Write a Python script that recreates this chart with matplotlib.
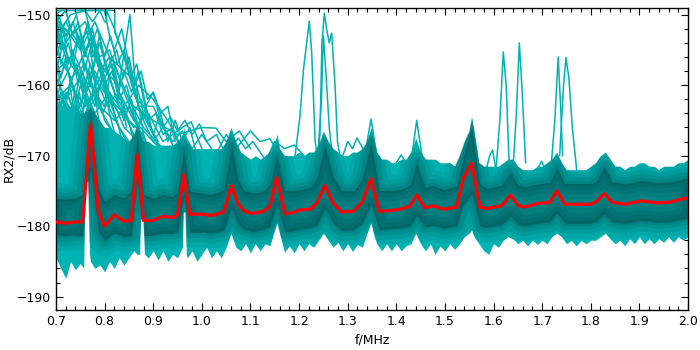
import matplotlib
matplotlib.use('Agg')
import matplotlib.pyplot as plt
from matplotlib.ticker import MultipleLocator, FormatStrFormatter

# mean spectrum (red)
mean_f = [0.700, 0.720, 0.740, 0.755, 0.771, 0.787, 0.800, 0.820, 0.840, 0.855,
          0.867, 0.880, 0.900, 0.920, 0.940, 0.950, 0.963, 0.975, 1.000, 1.020,
          1.045, 1.061, 1.075, 1.088, 1.106, 1.127, 1.140, 1.154, 1.171, 1.188,
          1.202, 1.223, 1.237, 1.253, 1.270, 1.288, 1.312, 1.329, 1.348, 1.365,
          1.387, 1.408, 1.428, 1.442, 1.459, 1.476, 1.497, 1.524, 1.538, 1.555,
          1.572, 1.586, 1.617, 1.635, 1.651, 1.665, 1.689, 1.716, 1.730, 1.747,
          1.800, 1.812, 1.828, 1.844, 1.871, 1.905, 1.936, 1.963, 1.990, 2.000]
mean_db = [-179.4, -179.6, -179.4, -179.4, -165.5, -177.9, -180.0, -178.4, -179.3, -179.2,
           -169.9, -179.2, -179.2, -178.6, -178.8, -178.4, -172.7, -178.3, -178.3, -178.5,
           -178.0, -174.3, -176.9, -177.9, -178.2, -177.9, -177.2, -173.1, -178.2, -178.1,
           -177.7, -177.6, -176.7, -174.2, -176.7, -178.0, -177.9, -176.7, -173.3, -177.9,
           -177.8, -177.6, -177.2, -175.6, -177.4, -177.1, -177.6, -177.3, -173.2, -171.1,
           -177.3, -177.5, -177.1, -175.6, -177.1, -177.3, -176.8, -176.6, -175.0, -176.9,
           -176.9, -176.5, -175.4, -176.6, -176.9, -176.4, -176.7, -176.6, -176.1, -176.0]
# dark core of the trace bundle (same frequencies as the mean)
core_hi = [-176.0, -176.2, -176.0, -175.5, -163.8, -174.5, -176.5, -175.5, -176.0, -175.0,
           -166.9, -175.5, -176.0, -175.5, -175.8, -175.0, -169.0, -175.0, -175.3, -175.5,
           -174.8, -168.3, -173.5, -175.0, -175.3, -175.0, -174.0, -170.1, -175.0, -175.0,
           -174.8, -174.5, -173.0, -168.5, -173.0, -175.0, -175.0, -173.5, -168.0, -175.0,
           -175.0, -174.8, -174.2, -171.0, -174.5, -174.2, -174.8, -174.3, -170.0, -166.0,
           -174.0, -174.6, -174.2, -172.3, -174.2, -174.4, -174.0, -173.8, -171.5, -174.0,
           -174.0, -173.6, -171.5, -173.7, -174.0, -173.5, -173.8, -173.7, -173.3, -173.2]
core_lo = [-181.2, -181.4, -181.2, -181.2, -172.0, -180.8, -182.0, -181.0, -181.5, -181.3,
           -174.0, -181.3, -181.3, -181.0, -181.0, -180.8, -176.0, -180.8, -180.8, -181.0,
           -180.6, -177.5, -179.8, -180.5, -180.8, -180.5, -180.0, -177.0, -180.8, -180.7,
           -180.4, -180.3, -179.8, -177.5, -179.6, -180.6, -180.5, -179.7, -177.0, -180.5,
           -180.4, -180.3, -180.0, -178.5, -180.1, -179.9, -180.3, -180.0, -177.0, -175.5,
           -180.0, -180.2, -179.8, -178.6, -179.8, -180.0, -179.6, -179.4, -178.2, -179.6,
           -179.6, -179.3, -178.3, -179.4, -179.6, -179.2, -179.5, -179.4, -179.0, -178.9]

# outer envelope of the dense bundle
band_f = [0.700, 0.710, 0.720, 0.730, 0.740, 0.750, 0.757, 0.760, 0.766, 0.769,
          0.771, 0.780, 0.790, 0.800, 0.810, 0.820, 0.830, 0.840, 0.850, 0.860,
          0.867, 0.872, 0.874, 0.880, 0.882, 0.890, 0.900, 0.910, 0.920, 0.930,
          0.940, 0.950, 0.960, 0.962, 0.963, 0.966, 0.968, 0.970, 0.980, 0.990,
          1.000, 1.010, 1.020, 1.030, 1.040, 1.050, 1.060, 1.070, 1.080, 1.090,
          1.100, 1.110, 1.120, 1.130, 1.140, 1.150, 1.155, 1.160, 1.170, 1.180,
          1.190, 1.200, 1.210, 1.220, 1.230, 1.240, 1.250, 1.260, 1.270, 1.280,
          1.290, 1.300, 1.310, 1.320, 1.330, 1.340, 1.348, 1.355, 1.360, 1.370,
          1.380, 1.390, 1.400, 1.410, 1.420, 1.430, 1.440, 1.450, 1.460, 1.470,
          1.480, 1.490, 1.500, 1.510, 1.520, 1.530, 1.540, 1.550, 1.555, 1.560,
          1.570, 1.580, 1.590, 1.600, 1.610, 1.620, 1.630, 1.640, 1.650, 1.660,
          1.670, 1.680, 1.690, 1.700, 1.710, 1.720, 1.730, 1.740, 1.750, 1.760,
          1.770, 1.780, 1.790, 1.800, 1.810, 1.820, 1.830, 1.840, 1.850, 1.860,
          1.870, 1.880, 1.890, 1.900, 1.910, 1.920, 1.930, 1.940, 1.950, 1.960,
          1.970, 1.980, 1.990, 2.000]
band_hi = [-162.0, -163.0, -162.0, -163.5, -162.5, -164.0, -164.0, -164.0, -163.5, -163.5,
           -163.0, -164.0, -165.0, -166.0, -166.0, -166.5, -167.0, -167.5, -168.0, -167.0,
           -165.5, -166.5, -167.0, -168.0, -168.0, -168.0, -168.5, -168.5, -168.5, -168.5,
           -168.5, -168.0, -167.0, -166.5, -166.0, -167.0, -167.5, -168.0, -169.0, -169.0,
           -169.0, -169.0, -169.0, -169.0, -169.0, -168.0, -166.0, -168.0, -169.5, -170.0,
           -170.5, -170.0, -170.5, -170.0, -169.5, -168.0, -167.0, -169.0, -170.0, -170.0,
           -170.0, -169.5, -170.0, -169.5, -169.5, -168.5, -166.5, -168.0, -169.0, -169.5,
           -170.0, -170.0, -169.5, -169.5, -169.0, -168.0, -166.0, -168.0, -169.5, -170.5,
           -170.5, -171.0, -171.0, -170.5, -170.5, -169.5, -167.5, -169.5, -170.5, -170.5,
           -170.5, -171.0, -171.0, -171.0, -171.5, -170.0, -168.0, -166.5, -164.5, -166.5,
           -171.0, -171.5, -171.5, -171.5, -171.5, -171.0, -170.5, -170.5, -171.5, -172.0,
           -172.0, -172.0, -171.5, -171.5, -171.0, -170.5, -169.5, -171.0, -172.0, -172.0,
           -172.0, -172.0, -172.0, -171.5, -171.0, -170.0, -169.5, -170.5, -171.5, -171.5,
           -172.0, -171.5, -171.5, -171.0, -171.0, -171.5, -171.5, -172.0, -171.5, -171.5,
           -171.5, -171.0, -171.0, -170.5]
band_lo = [-184.5, -186.0, -187.4, -185.0, -186.2, -185.3, -186.0, -174.0, -173.5, -184.0,
           -185.0, -186.0, -185.5, -186.5, -185.0, -186.0, -184.5, -185.5, -184.5, -183.5,
           -184.0, -184.0, -179.0, -179.0, -184.0, -184.5, -183.5, -184.8, -183.5, -185.0,
           -184.0, -184.5, -183.0, -178.0, -178.0, -178.0, -184.0, -184.5, -183.5, -185.0,
           -184.0, -183.0, -184.5, -183.5, -184.5, -183.0, -181.0, -183.0, -183.5, -182.5,
           -183.8, -182.5, -183.5, -182.5, -182.8, -180.5, -179.5, -181.0, -183.7, -182.8,
           -183.8, -182.5, -183.5, -182.5, -183.0, -182.0, -181.0, -182.0, -183.0, -182.3,
           -183.5, -182.5, -183.6, -182.6, -183.0, -181.0, -179.5, -181.5, -182.5, -183.5,
           -182.5, -183.5, -182.5, -183.5, -182.8, -182.5, -181.0, -182.5, -183.5, -182.5,
           -184.0, -182.8, -183.5, -182.5, -183.3, -182.5, -181.5, -181.0, -180.5, -181.5,
           -182.5, -183.5, -184.0, -182.5, -183.0, -182.0, -181.5, -181.8, -182.5, -182.0,
           -182.8, -182.0, -182.6, -182.0, -182.5, -181.5, -181.0, -181.5, -182.5, -182.0,
           -182.8, -182.0, -182.5, -182.0, -182.0, -181.5, -181.0, -181.8, -182.5, -182.0,
           -182.8, -181.8, -182.5, -181.5, -182.5, -181.8, -182.5, -181.8, -182.3, -181.5,
           -182.3, -181.5, -182.0, -181.5]

# single traces that stick out of the bundle: (frequencies, levels)
stray_traces = [
    ([0.70, 0.821, 0.821, 0.84, 0.86, 0.88, 0.90, 0.93],
     [-149.4, -149.4, -152.5, -156, -161, -165, -168, -170]),
    ([0.70, 0.72, 0.79, 0.80, 0.804, 0.804, 0.82, 0.85, 0.87, 0.90, 0.92],
     [-151, -149.4, -149.4, -151, -151, -149.4, -152, -158, -163, -167, -170]),
    ([0.70, 0.73, 0.76, 0.78, 0.80, 0.83, 0.852, 0.862, 0.88, 0.91],
     [-153, -150, -149.4, -155, -158, -160, -150.0, -159, -164, -168]),
    ([0.70, 0.71, 0.74, 0.77, 0.80, 0.83, 0.86],
     [-149.8, -155, -152, -157, -162, -166, -170]),
    ([0.70, 0.72, 0.75, 0.78, 0.81, 0.84, 0.864, 0.87, 0.90, 0.92, 0.94],
     [-156, -152, -155, -151, -156, -158, -159.5, -163, -163, -166, -168]),
    ([0.70, 0.73, 0.76, 0.79, 0.82, 0.85, 0.88, 0.90],
     [-158, -156, -161, -154, -161, -165, -167, -171]),
    ([0.70, 0.72, 0.75, 0.77, 0.80, 0.83, 0.86],
     [-160, -157, -163, -157, -165, -168, -172]),
    ([0.70, 0.73, 0.76, 0.79, 0.83, 0.87, 0.90, 0.93, 0.96],
     [-162, -160, -163, -160, -164, -160, -162, -165, -169]),
    ([0.70, 0.72, 0.75, 0.78, 0.82, 0.86],
     [-164, -161, -165, -162, -167, -169]),
    ([0.70, 0.72, 0.74, 0.77, 0.80, 0.83, 0.86, 0.89, 0.92, 0.96, 0.978, 1.00],
     [-152, -156, -158, -154, -160, -163, -166, -164, -168, -166, -165.2, -169]),
    ([0.70, 0.73, 0.76, 0.79, 0.82, 0.85, 0.88, 0.91],
     [-155, -159, -157, -163, -165, -163, -168, -170]),
    ([0.70, 0.73, 0.76, 0.79, 0.81, 0.84, 0.87, 0.89],
     [-150.5, -153, -151, -156, -155, -161, -166, -169]),
    ([0.86, 0.90, 0.95, 1.00, 1.029, 1.05, 1.077, 1.10],
     [-163, -165, -167, -166, -166.1, -168, -166.5, -169]),
    ([0.70, 0.71, 0.74, 0.765, 0.78, 0.81, 0.84, 0.86, 0.89],
     [-157, -160, -156, -160, -158, -162, -164, -167, -171]),
    ([0.70, 0.72, 0.75, 0.78, 0.81, 0.84, 0.87],
     [-159, -162, -159, -164, -161, -166, -168]),
    ([0.70, 0.74, 0.77, 0.80, 0.83, 0.86, 0.90, 0.94],
     [-161, -164, -160, -163, -161, -165, -168, -170]),
    ([0.70, 0.72, 0.745, 0.77, 0.79, 0.82, 0.85, 0.88, 0.92],
     [-154, -151, -154, -152, -158, -157, -162, -166, -169]),
    ([0.70, 0.705, 0.715, 0.725, 0.735, 0.745, 0.755, 0.765, 0.78, 0.79, 0.80],
     [-151, -154, -152, -157, -155, -160, -158, -163, -161, -166, -168]),
    ([0.70, 0.71, 0.72, 0.73, 0.74, 0.75, 0.76, 0.77, 0.78],
     [-165, -161, -163, -159, -162, -158, -161, -164, -167]),
    ([0.70, 0.71, 0.72, 0.735, 0.745, 0.76, 0.775, 0.79, 0.81, 0.83],
     [-150, -149.4, -149.4, -153, -151, -155, -153, -158, -156, -162]),
    ([0.70, 0.712, 0.725, 0.74, 0.752, 0.765, 0.78, 0.795, 0.81, 0.825, 0.84],
     [-167, -164, -166, -162, -165, -160, -163, -159, -162, -165, -169]),
    ([0.70, 0.71, 0.725, 0.74, 0.755, 0.77, 0.785, 0.80, 0.815, 0.83, 0.845, 0.86],
     [-153, -157, -154, -158, -156, -160, -155, -159, -157, -161, -164, -168]),
    ([0.70, 0.715, 0.73, 0.745, 0.76, 0.775, 0.79, 0.805, 0.82],
     [-158, -154, -157, -153, -156, -152, -157, -160, -164]),
    ([0.75, 0.76, 0.775, 0.79, 0.80, 0.81, 0.82, 0.835, 0.85, 0.86, 0.87, 0.88],
     [-149.4, -149.4, -151, -149.4, -149.4, -153, -155, -152, -157, -160, -163, -167]),
    ([0.70, 0.708, 0.718, 0.728, 0.738, 0.748, 0.758, 0.768, 0.778, 0.79],
     [-163, -160, -163, -160, -164, -161, -165, -162, -166, -169]),
    ([0.70, 0.71, 0.72, 0.73, 0.742, 0.755, 0.768, 0.78, 0.795, 0.81, 0.825],
     [-156, -159, -156, -160, -157, -161, -158, -162, -159, -164, -168]),
    ([0.78, 0.79, 0.80, 0.815, 0.83, 0.845, 0.86, 0.875, 0.89, 0.905, 0.92, 0.94, 0.96],
     [-160, -157, -160, -158, -162, -160, -164, -162, -165, -164, -167, -166, -170]),
    ([0.80, 0.81, 0.825, 0.84, 0.855, 0.87, 0.885, 0.90, 0.915, 0.93, 0.95],
     [-163, -159, -162, -158, -161, -158, -163, -161, -165, -167, -170]),
    ([0.70, 0.718, 0.732, 0.746, 0.76, 0.772, 0.785, 0.80],
     [-168, -166, -168, -165, -167, -164, -166, -169]),
    ([0.70, 0.705, 0.72, 0.735, 0.75, 0.762, 0.775, 0.79, 0.805, 0.82, 0.84],
     [-152, -150, -153, -151, -155, -152, -156, -154, -158, -161, -165]),
    ([0.84, 0.855, 0.87, 0.885, 0.90, 0.915, 0.93, 0.945, 0.96, 0.975, 0.99],
     [-165, -162, -166, -163, -167, -164, -168, -165, -168, -166, -170]),
    ([0.90, 0.92, 0.94, 0.96, 0.98, 1.00, 1.02, 1.04],
     [-168, -166, -168, -166.5, -169, -167, -169, -171]),
    ([0.70, 0.71, 0.723, 0.737, 0.75, 0.765, 0.78, 0.795, 0.81, 0.83, 0.85, 0.87],
     [-160, -163, -161, -164, -160, -163, -160, -164, -162, -166, -168, -170]),
    ([0.70, 0.707, 0.716, 0.726, 0.736, 0.747, 0.758, 0.77, 0.783, 0.797, 0.81],
     [-155, -151, -155, -152, -157, -153, -158, -155, -160, -158, -163]),
    ([0.72, 0.73, 0.742, 0.754, 0.766, 0.778, 0.79, 0.803, 0.816, 0.83, 0.845],
     [-149.4, -152, -150, -154, -151, -156, -153, -158, -156, -161, -166]),
    ([0.70, 0.713, 0.726, 0.739, 0.752, 0.765, 0.778, 0.79],
     [-166, -162, -165, -161, -164, -162, -165, -168]),
    ([0.77, 0.785, 0.80, 0.812, 0.826, 0.84, 0.853, 0.866, 0.88, 0.895],
     [-155, -152, -156, -153, -157, -155, -159, -157, -162, -166]),
    ([0.81, 0.825, 0.838, 0.85, 0.862, 0.875, 0.888, 0.90, 0.915, 0.93, 0.945],
     [-157, -155, -159, -156, -160, -158, -162, -161, -164, -163, -168]),
    ([0.92, 0.935, 0.95, 0.965, 0.98, 0.995, 1.01, 1.03, 1.05],
     [-166, -164.5, -166.5, -165, -167, -165.5, -168, -167, -170]),
    ([1.06, 1.075, 1.09, 1.105, 1.12, 1.135],
     [-169, -167.5, -169, -168, -169.5, -171]),
    ([1.02, 1.05, 1.07, 1.10, 1.12, 1.14, 1.16],
     [-171, -167, -169, -166.5, -168, -167.6, -170]),
    ([1.13, 1.15, 1.17, 1.19, 1.21],
     [-171, -168, -169, -168.5, -170]),
    ([1.19, 1.202, 1.209, 1.221, 1.226, 1.233, 1.24],
     [-171, -164.3, -157.8, -150.9, -155.4, -168, -171]),
    ([1.236, 1.243, 1.247, 1.252, 1.257, 1.262, 1.267, 1.274, 1.279, 1.286],
     [-171, -167, -154, -149.8, -152.2, -154, -152.6, -160, -168, -171]),
    ([1.238, 1.246, 1.250, 1.255, 1.262, 1.27],
     [-171, -162, -153, -158, -166, -171]),
    ([1.29, 1.30, 1.31, 1.319, 1.34],
     [-170, -168, -169, -167.5, -170]),
    ([1.335, 1.348, 1.36], [-170, -164.8, -170]),
    ([1.43, 1.442, 1.455], [-171, -165, -171]),
    ([1.40, 1.41, 1.42], [-171, -169.9, -171]),
    ([1.585, 1.592, 1.598, 1.605], [-172, -170, -169.2, -172]),
    ([1.605, 1.613, 1.620, 1.626, 1.632], [-172, -165, -155.3, -160, -171]),
    ([1.640, 1.647, 1.653, 1.659, 1.666], [-172, -164, -154.0, -161, -171]),
    ([1.69, 1.699, 1.71], [-172, -170.8, -172.5]),
    ([1.718, 1.726, 1.733, 1.738, 1.742], [-172, -165, -156.0, -163, -170]),
    ([1.736, 1.744, 1.749, 1.755, 1.762, 1.771], [-170, -160, -156.1, -159, -166, -172]),
]

x_ticks = [0.7, 0.8, 0.9, 1.0, 1.1, 1.2, 1.3, 1.4, 1.5, 1.6, 1.7, 1.8, 1.9, 2.0]
y_ticks = [-190, -180, -170, -160, -150]

cyan = '#00b2b2'
dark = '#083e40'

plt.rcParams['font.family'] = ['DejaVu Sans']
plt.rcParams['font.size'] = 9

fig = plt.figure(figsize=(7, 3.5), dpi=100)
ax = fig.add_axes([56 / 700, 40 / 350, 632 / 700, 302 / 350])

for tf, tv in stray_traces:
    ax.plot(tf, tv, color=cyan, lw=1.1, zorder=1)

band = ax.fill_between(band_f, band_lo, band_hi, color=cyan, lw=0, zorder=2)
band_path = band.get_paths()[0]

# darkening towards the core, kept inside the bundle outline
for lw, a in [(22, 0.09), (15, 0.11), (9, 0.13), (4, 0.13)]:
    halo = ax.fill_between(mean_f, core_lo, core_hi, facecolor='none',
                           edgecolor=dark, lw=lw, alpha=a, zorder=3,
                           joinstyle='round')
    halo.set_clip_path(band_path, ax.transData)
core = ax.fill_between(mean_f, core_lo, core_hi, color=dark, alpha=0.4, lw=0, zorder=4)
core.set_clip_path(band_path, ax.transData)

ax.plot(mean_f, mean_db, color='#ff0000', lw=2.3, zorder=5)

ax.set_xlim(0.7, 2.0)
ax.set_ylim(-191.9, -149.05)
ax.set_xticks(x_ticks)
ax.set_yticks(y_ticks)
ax.xaxis.set_major_formatter(FormatStrFormatter('%.1f'))
ax.xaxis.set_minor_locator(MultipleLocator(0.02))
ax.yaxis.set_minor_locator(MultipleLocator(2))
ax.tick_params(which='both', direction='in', top=True, right=True, width=0.8)
ax.tick_params(which='major', length=5)
ax.tick_params(which='minor', length=3)
for s in ax.spines.values():
    s.set_linewidth(1.0)
ax.set_xlabel('f/MHz', labelpad=4)
ax.set_ylabel('RX2/dB', labelpad=1)

fig.savefig('out.png', dpi=100)
